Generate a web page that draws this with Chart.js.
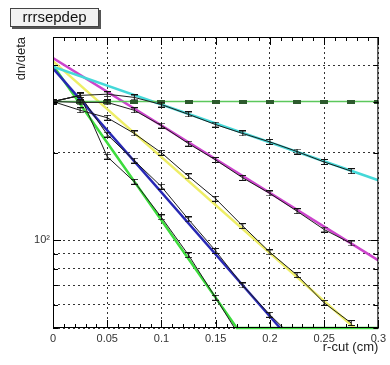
<!DOCTYPE html>
<html>
<head>
<meta charset="utf-8">
<script src="https://cdn.jsdelivr.net/npm/chart.js@4.4.0/dist/chart.umd.min.js"></script>
<style>
  html, body { margin: 0; padding: 0; background: #fff; }
</style>
</head>
<body>
<canvas id="chart" width="390" height="365"></canvas>
<script>
// r-cut positions of the measured points
const rcut = [0, 0.025, 0.05, 0.075, 0.1, 0.125, 0.15, 0.175, 0.2, 0.225, 0.25, 0.275];

// measured dn/deta (black graphs), one per fit colour
const cyanData    = [300, 315, 318, 310, 293, 271, 250, 233, 218, 202, 186, 173];
const magentaData = [300, 298, 298, 280, 248, 215, 189, 164, 145, 126, 109, 97.6];
const yellowData  = [300, 280, 264, 233, 200, 166, 139, 112, 91, 76, 61, 52];
const blueData    = [300, 315, 231, 188, 153, 118, 92, 70, 55.5, 45];
const greenData   = [300, 315, 194, 159, 120, 89, 63.5, 45];
const flatData    = [300, 300, 300, 300, 300, 300, 300, 300, 300, 300, 300, 300];

// exponential fits (straight on log axis), end points
const cyanFitX = [0, 0.3],       cyanFitY = [395, 161];
const magentaFitX = [0, 0.3],    magentaFitY = [423, 85.4];
const yellowFitX = [0, 0.278],   yellowFitY = [413, 50];
const blueFitX = [0, 0.2094],    blueFitY = [390, 50];
const greenFitX = [0, 0.1695, 0.3], greenFitY = [400, 50, 50];

// axes
const xTicks = [0, 0.05, 0.1, 0.15, 0.2, 0.25, 0.3];
const xTickLabels = ['0', '0.05', '0.1', '0.15', '0.2', '0.25', '0.3'];
const yTicks = [50, 60, 70, 80, 90, 100, 200, 300, 400, 500];
const yLabelled = { 100: '10\u00b2' };

const FONT = 'Liberation Sans, Arial, Helvetica, sans-serif';

// error bar glyph used as point style
function errorBar(color) {
    const c = document.createElement('canvas');
    c.width = 7; c.height = 6;
    const g = c.getContext('2d');
    g.fillStyle = color;
    g.fillRect(0, 0, 7, 1);
    g.fillRect(0, 5, 7, 1);
    g.fillRect(3, 0, 1, 6);
    return c;
}
function blob(color) {
    const c = document.createElement('canvas');
    c.width = 8; c.height = 4;
    const g = c.getContext('2d');
    g.fillStyle = color;
    g.fillRect(0, 0, 8, 4);
    return c;
}
const bar = errorBar('#111');
const flatMark = blob('#2d5a2d');

const pts = (xs, ys) => ys.map((v, i) => ({ x: xs[i], y: v }));

function dataSet(label, ys) {
    return {
        label: label,
        data: pts(rcut, ys),
        borderColor: '#1c1c1c',
        borderWidth: 1,
        pointStyle: bar,
        pointRadius: 3,
        tension: 0,
        order: 0
    };
}
function fitSet(label, xs, ys, color, extra) {
    return Object.assign({
        label: label,
        data: pts(xs, ys),
        borderColor: color,
        borderWidth: 2.5,
        pointRadius: 0,
        tension: 0,
        order: 2
    }, extra || {});
}

const rootFrame = {
    id: 'rootFrame',
    afterDraw(chart) {
        const { ctx, chartArea: a, scales: { x, y } } = chart;
        ctx.save();
        ctx.strokeStyle = '#000';
        ctx.lineWidth = 1;
        ctx.beginPath();
        for (let i = 0; i <= 30; i++) {
            const px = Math.round(x.getPixelForValue(i / 100)) + 0.5;
            const len = i % 5 === 0 ? 8 : 4;
            ctx.moveTo(px, a.bottom); ctx.lineTo(px, a.bottom - len);
            ctx.moveTo(px, a.top); ctx.lineTo(px, a.top + len);
        }
        yTicks.forEach(v => {
            const py = Math.round(y.getPixelForValue(v)) + 0.5;
            const len = v === 100 ? 8 : 5;
            ctx.moveTo(a.left, py); ctx.lineTo(a.left + len, py);
            ctx.moveTo(a.right, py); ctx.lineTo(a.right - len, py);
        });
        ctx.stroke();
        ctx.strokeRect(a.left + 0.5, a.top + 0.5, a.right - a.left - 1, a.bottom - a.top - 1);

        // title box with shadow
        ctx.fillStyle = '#555';
        ctx.fillRect(12, 10, 89, 19);
        ctx.fillStyle = '#f2f2f2';
        ctx.fillRect(10, 8, 89, 19);
        ctx.strokeStyle = '#444';
        ctx.strokeRect(10.5, 8.5, 88, 18);
        ctx.fillStyle = '#111';
        ctx.font = '15px ' + FONT;
        ctx.textAlign = 'center';
        ctx.textBaseline = 'middle';
        ctx.fillText('rrrsepdep', 54.5, 17.5);
        ctx.restore();
    }
};

new Chart(document.getElementById('chart'), {
    type: 'line',
    data: {
        datasets: [
            dataSet('cyan', cyanData),
            dataSet('magenta', magentaData),
            dataSet('yellow', yellowData),
            dataSet('blue', blueData),
            dataSet('green', greenData),
            {
                label: 'flat',
                data: pts(rcut.concat([0.3]), flatData.concat([300])),
                borderColor: '#5cc85c',
                borderWidth: 1.5,
                pointStyle: flatMark,
                pointRadius: 3,
                tension: 0,
                order: 1
            },
            fitSet('cyan fit', cyanFitX, cyanFitY, '#44d8d8'),
            fitSet('magenta fit', magentaFitX, magentaFitY, '#cc44cc'),
            fitSet('yellow fit', yellowFitX, yellowFitY, '#eeee66'),
            fitSet('blue fit', blueFitX, blueFitY, '#2828b4'),
            fitSet('green fit', greenFitX, greenFitY, '#3ddc3d',
                { clip: { left: 0, top: 0, right: 0, bottom: 3 } })
        ]
    },
    options: {
        responsive: false,
        animation: false,
        layout: { padding: { top: 37, right: 7, left: 0, bottom: 0 } },
        plugins: {
            legend: { display: false },
            tooltip: { enabled: false }
        },
        scales: {
            x: {
                type: 'linear',
                min: 0,
                max: 0.3,
                afterBuildTicks: s => { s.ticks = xTicks.map(v => ({ value: v })); },
                afterFit: s => { s.height = 37; },
                grid: { color: '#333', lineWidth: 1, drawTicks: false },
                border: { display: false, dash: [2, 3] },
                ticks: {
                    autoSkip: false,
                    maxRotation: 0,
                    padding: 4,
                    color: '#333',
                    font: { family: FONT, size: 11 },
                    callback: (v, i) => xTickLabels[i]
                },
                title: {
                    display: true,
                    text: 'r-cut (cm)',
                    align: 'end',
                    color: '#222',
                    font: { family: FONT, size: 13 },
                    padding: { top: 0, bottom: 10 }
                }
            },
            y: {
                type: 'logarithmic',
                min: 50,
                max: 500,
                afterBuildTicks: s => { s.ticks = yTicks.map(v => ({ value: v })); },
                afterFit: s => { s.width = 53; },
                grid: { color: '#333', lineWidth: 1, drawTicks: false },
                border: { display: false, dash: [2, 3] },
                ticks: {
                    autoSkip: false,
                    padding: 3,
                    color: '#333',
                    font: { family: FONT, size: 11 },
                    callback: v => yLabelled[v] || ''
                },
                title: {
                    display: true,
                    text: 'dn/deta',
                    align: 'end',
                    color: '#222',
                    font: { family: FONT, size: 13 },
                    padding: { top: 14, bottom: 0 }
                }
            }
        }
    },
    plugins: [rootFrame]
});
</script>
</body>
</html>
